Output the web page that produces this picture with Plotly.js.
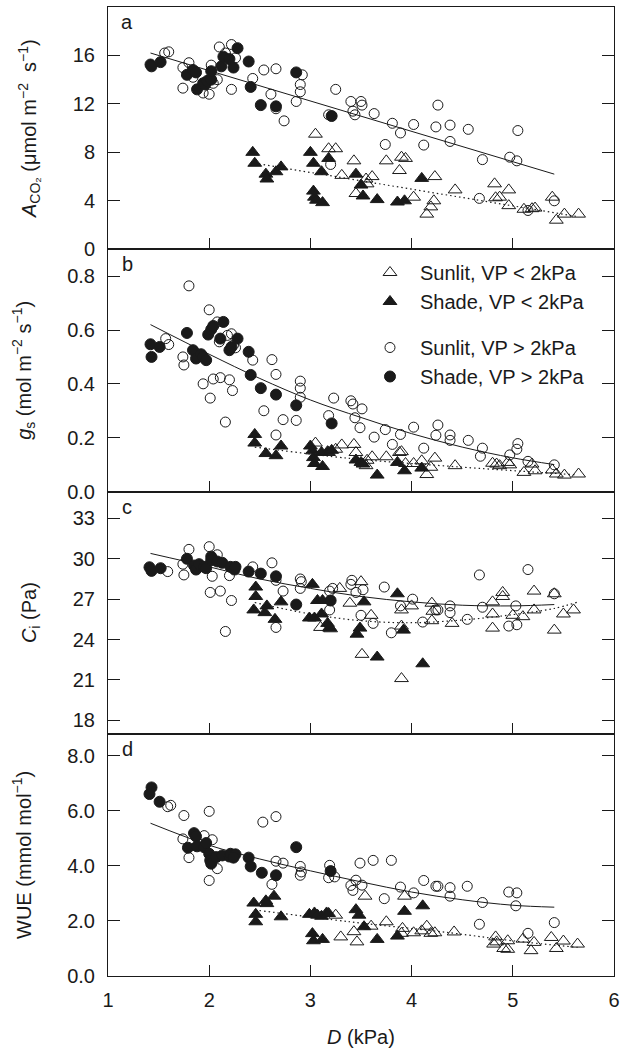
<!DOCTYPE html>
<html>
<head>
<meta charset="utf-8">
<script src="https://cdn.plot.ly/plotly-3.0.1.min.js"></script>
<style>html,body{margin:0;padding:0;background:#fff;}#chart{width:633px;height:1051px;}</style>
</head>
<body>
<div id="chart"></div>
<script>
// ---------- Panel a: A_CO2 ----------
const a_sunHi_x = [1.56,1.6,1.74,1.8,1.74,1.84,1.94,2.0,2.02,2.04,2.08,2.1,2.16,2.22,2.22,2.26,2.43,2.54,2.61,2.66,2.66,2.74,2.86,2.9,2.9,2.92,3.2,3.18,3.25,3.4,3.42,3.44,3.5,3.51,3.63,3.74,3.81,3.89,4.02,4.12,4.24,4.26,4.38,4.38,4.56,4.7,4.67,4.97,5.04,5.05,5.15,5.41];
const a_sunHi_y = [16.2,16.3,15.0,15.4,13.3,14.2,12.9,12.8,15.2,13.7,14.0,16.7,16.2,16.9,13.2,15.8,14.1,14.8,12.8,14.9,11.6,10.6,12.2,13.6,13.0,14.4,7.0,11.1,13.2,12.2,11.4,11.1,12.2,11.9,11.2,8.65,10.4,9.6,10.3,8.6,10.1,11.9,10.25,8.9,9.9,7.4,4.2,7.6,7.3,9.8,3.2,4.0];
const a_shadeHi_x = [1.42,1.43,1.52,1.78,1.84,1.87,1.88,1.94,1.96,1.98,2.02,2.02,2.12,2.14,2.2,2.24,2.28,2.39,2.41,2.51,2.66,2.86,3.21];
const a_shadeHi_y = [15.25,15.1,15.45,14.4,14.8,14.6,13.2,13.7,13.6,13.9,14.0,14.7,15.1,15.9,15.7,15.0,16.6,15.5,13.4,11.9,11.8,14.6,11.0];
const a_sunLo_x = [3.05,3.18,3.25,3.31,3.43,3.45,3.55,3.56,3.61,3.75,3.88,3.9,3.94,4.02,4.15,4.19,4.22,4.23,4.43,4.82,4.83,4.87,4.96,4.96,5.11,5.19,5.22,5.39,5.43,5.51,5.65];
const a_sunLo_y = [9.5,8.3,8.3,6.1,7.3,4.6,5.8,5.4,6.0,7.3,6.5,7.6,7.5,4.3,2.9,3.5,4.0,6.0,4.9,5.4,4.25,4.3,4.9,3.6,3.3,3.35,3.4,4.3,2.4,2.9,2.9];
const a_shadeLo_x = [2.43,2.45,2.56,2.57,2.66,2.71,3.0,3.03,3.03,3.04,3.06,3.12,3.11,3.18,3.45,3.5,3.52,3.66,3.86,3.93,4.1];
const a_shadeLo_y = [8.0,7.1,6.2,5.8,6.4,6.8,8.0,7.1,4.8,4.3,4.05,3.85,6.4,7.5,6.2,5.3,4.4,4.1,3.9,4.0,5.85];
const a_fitHi_x = [1.42,5.41];
const a_fitHi_y = [16.2,6.2];
const a_fitLo_x = [2.45,5.64];
const a_fitLo_y = [7.1,2.7];

// ---------- Panel b: g_s ----------
const b_sunHi_x = [1.8,2.0,1.57,1.6,1.74,1.75,1.94,2.01,2.04,2.11,2.16,2.2,2.23,2.08,2.1,2.18,2.22,2.24,2.26,2.43,2.54,2.62,2.66,2.66,2.73,2.86,2.9,2.9,2.9,3.18,3.23,3.4,3.42,3.44,3.51,3.49,3.63,3.74,3.81,3.89,4.02,4.12,4.24,4.26,4.38,4.38,4.56,4.68,4.7,4.97,5.04,5.05,5.15,5.41];
const b_sunHi_y = [0.764,0.675,0.568,0.546,0.50,0.47,0.40,0.347,0.418,0.423,0.258,0.415,0.375,0.63,0.556,0.58,0.586,0.544,0.534,0.488,0.30,0.49,0.435,0.21,0.267,0.264,0.41,0.384,0.35,0.282,0.347,0.337,0.325,0.274,0.307,0.237,0.202,0.23,0.175,0.212,0.239,0.161,0.209,0.247,0.21,0.19,0.19,0.131,0.161,0.136,0.157,0.178,0.112,0.099];
const b_shadeHi_x = [1.42,1.43,1.51,1.78,1.84,1.87,1.92,1.94,1.97,1.99,2.02,2.04,2.11,2.14,2.2,2.22,2.28,2.39,2.41,2.51,2.66,2.86,3.21];
const b_shadeHi_y = [0.547,0.50,0.537,0.589,0.525,0.494,0.51,0.50,0.488,0.583,0.602,0.615,0.568,0.63,0.525,0.537,0.568,0.519,0.433,0.384,0.36,0.32,0.253];
const b_sunLo_x = [3.05,3.18,3.25,3.31,3.43,3.45,3.55,3.56,3.61,3.75,3.88,3.9,3.94,4.02,4.1,4.15,4.19,4.23,4.43,4.8,4.84,4.87,4.95,4.97,5.11,5.19,5.22,5.39,5.43,5.51,5.65];
const b_sunLo_y = [0.18,0.145,0.157,0.173,0.175,0.145,0.096,0.116,0.129,0.129,0.145,0.148,0.104,0.104,0.114,0.063,0.09,0.124,0.096,0.105,0.102,0.096,0.108,0.099,0.071,0.102,0.077,0.08,0.065,0.061,0.065];
const b_shadeLo_x = [2.45,2.45,2.56,2.66,2.71,3.0,3.02,3.03,3.04,3.12,3.11,3.17,3.21,3.45,3.5,3.52,3.66,3.86,3.93,4.1];
const b_shadeLo_y = [0.212,0.18,0.141,0.133,0.169,0.169,0.151,0.126,0.104,0.093,0.145,0.148,0.153,0.117,0.108,0.102,0.061,0.108,0.077,0.087];
const b_fitHi_x = [1.42,2.0,2.5,3.0,3.5,4.0,4.5,5.0,5.41];
const b_fitHi_y = [0.62,0.51,0.42,0.34,0.275,0.215,0.165,0.125,0.10];
const b_fitLo_x = [2.45,3.39,4.44,5.63];
const b_fitLo_y = [0.165,0.123,0.092,0.062];

// ---------- Panel c: C_i ----------
const c_sunHi_x = [1.59,1.74,1.75,1.8,2.0,2.03,2.01,2.08,2.11,2.16,2.22,2.2,2.43,2.62,2.66,2.66,2.73,2.9,2.91,2.9,3.19,3.19,3.22,3.4,3.41,3.45,3.52,3.5,3.62,3.73,3.8,3.89,4.01,4.11,4.24,4.26,4.38,4.38,4.55,4.67,4.7,4.96,5.03,5.04,5.15,5.41];
const c_sunHi_y = [29.05,29.6,28.8,30.7,30.9,28.7,27.5,30.3,27.6,24.6,26.9,28.75,29.4,29.7,28.4,24.9,27.6,28.5,28.3,27.8,26.2,27.6,27.8,28.1,28.4,27.5,27.7,25.8,25.2,27.9,24.5,26.5,27.0,25.3,26.2,26.2,26.5,26.0,25.5,28.8,26.4,25.0,26.5,25.1,29.2,27.4];
const c_shadeHi_x = [1.41,1.43,1.52,1.78,1.85,1.87,1.9,1.95,1.97,2.02,2.02,2.08,2.13,2.21,2.25,2.26,2.39,2.51,2.66,2.86,3.2];
const c_shadeHi_y = [29.37,29.1,29.3,30.0,29.5,29.2,29.6,29.4,29.3,30.16,29.9,29.8,29.7,29.4,29.2,29.4,29.05,28.9,28.7,26.6,26.9];
const c_sunLo_x = [3.1,3.19,3.2,3.29,3.39,3.5,3.51,3.6,3.9,3.9,3.9,4.0,4.2,4.21,4.2,4.4,4.8,4.8,4.8,4.9,4.9,5.0,5.1,5.21,5.21,5.41,5.41,5.5,5.6];
const c_sunLo_y = [24.9,24.9,24.8,27.8,26.7,28.3,22.9,25.8,26.2,25.0,21.1,26.5,26.7,26.1,25.4,25.2,26.8,25.9,24.85,27.5,27.2,25.8,25.7,27.6,26.2,27.4,24.7,25.9,26.2];
const c_shadeLo_x = [2.46,2.46,2.44,2.57,2.55,2.65,2.71,3.02,2.99,3.04,3.07,3.12,3.11,3.17,3.19,3.46,3.49,3.53,3.86,3.92,3.66,4.11];
const c_shadeLo_y = [27.9,27.2,26.2,26.5,26.0,25.5,26.8,28.1,25.6,25.6,26.9,26.9,25.9,25.2,24.85,24.4,24.85,26.8,27.4,24.7,22.7,22.2];
const c_fitHi_x = [1.42,2.0,2.5,3.0,3.5,4.0,4.5,5.0,5.41];
const c_fitHi_y = [30.4,29.4,28.5,27.8,27.2,26.8,26.55,26.5,26.6];
const c_fitLo_x = [2.45,3.0,3.5,4.0,4.5,5.0,5.4,5.65];
const c_fitLo_y = [26.75,25.9,25.4,25.25,25.45,25.85,26.3,26.8];

// ---------- Panel d: WUE ----------
const d_sunHi_x = [1.59,1.62,1.75,2.0,1.74,1.8,2.03,2.0,2.08,1.95,2.53,2.66,2.62,2.66,2.73,2.9,2.91,2.9,3.19,3.18,3.24,3.4,3.42,3.45,3.49,3.51,3.62,3.8,3.73,3.89,4.02,4.12,4.24,4.26,4.38,4.38,4.55,4.67,4.7,4.96,5.04,5.03,5.15,5.41];
const d_sunHi_y = [6.15,6.2,5.83,5.98,4.98,4.3,4.95,3.47,3.9,5.1,5.59,5.79,3.33,4.17,4.1,3.98,3.78,3.66,4.02,3.57,3.6,3.29,3.11,3.48,4.1,3.3,4.2,4.2,2.81,3.23,3.02,3.47,3.26,3.26,3.21,2.9,3.26,1.88,2.67,3.05,3.02,2.55,1.55,1.94];
const d_shadeHi_x = [1.43,1.41,1.51,1.85,1.87,1.79,1.88,1.95,1.97,2.0,2.01,2.02,2.07,2.13,2.2,2.21,2.26,2.24,2.39,2.41,2.52,2.66,2.86,3.2];
const d_shadeHi_y = [6.85,6.61,6.33,5.19,5.07,4.66,4.71,4.68,4.83,4.44,4.2,4.08,4.32,4.38,4.34,4.44,4.42,4.3,4.3,3.98,3.75,3.66,4.68,3.81];
const d_sunLo_x = [3.25,3.3,3.43,3.46,3.54,3.6,3.75,3.93,3.91,3.9,4.02,4.1,4.15,4.19,4.23,4.42,4.83,4.84,4.81,4.91,4.95,4.95,5.1,5.21,5.18,5.38,5.43,5.5,5.64];
const d_sunLo_y = [2.21,1.42,1.61,1.24,2.9,1.81,1.97,2.9,1.73,1.55,1.57,1.64,1.81,1.55,1.57,1.6,1.42,1.24,1.16,1.0,1.28,0.97,1.34,1.22,0.92,1.4,1.0,1.27,1.16];
const d_shadeLo_x = [2.44,2.46,2.46,2.56,2.57,2.64,2.71,2.99,3.04,3.07,3.11,3.16,3.18,3.02,3.03,3.12,3.45,3.48,3.53,3.93,4.11,3.86,3.66];
const d_shadeLo_y = [2.65,2.24,1.97,2.73,2.63,2.9,2.15,2.24,2.29,2.21,2.17,2.29,2.27,1.54,1.28,1.33,2.41,2.21,1.79,2.35,2.55,1.45,1.33];
const d_fitHi_x = [1.42,2.0,2.5,3.0,3.5,4.0,4.5,5.0,5.41];
const d_fitHi_y = [5.55,4.75,4.25,3.82,3.42,3.05,2.77,2.57,2.5];
const d_fitLo_x = [2.45,3.39,4.38,5.0,5.64];
const d_fitLo_y = [2.4,1.97,1.57,1.28,1.04];

// ---------- labels / ticks ----------
const seriesNames = ['Sunlit, VP < 2kPa','Shade, VP < 2kPa','Sunlit, VP > 2kPa','Shade, VP > 2kPa'];
const panelLetters = ['a','b','c','d'];
const yTitles = ['<i>A</i><sub>CO₂</sub> (μmol m<sup>−2</sup>  s<sup>−1</sup>)',
                 '<i>g</i><sub>s</sub> (mol m<sup>−2</sup> s<sup>−1</sup>)',
                 '<i>C</i><sub>i</sub> (Pa)',
                 'WUE (mmol mol<sup>−1</sup>)'];
const xTitle = '<i>D</i> (kPa)';
const xTicks = [1,2,3,4,5,6];
const yTickVals = [[0,4,8,12,16],[0,0.2,0.4,0.6,0.8],[18,21,24,27,30,33],[0,2,4,6,8]];
const yRanges = [[0,20],[0,0.9],[17,35],[0,8.8]];
const yFormats = ['d','.1f','d','.1f'];

const panels = [
  {sunLo:[a_sunLo_x,a_sunLo_y], shadeLo:[a_shadeLo_x,a_shadeLo_y], sunHi:[a_sunHi_x,a_sunHi_y], shadeHi:[a_shadeHi_x,a_shadeHi_y], fitHi:[a_fitHi_x,a_fitHi_y], fitLo:[a_fitLo_x,a_fitLo_y]},
  {sunLo:[b_sunLo_x,b_sunLo_y], shadeLo:[b_shadeLo_x,b_shadeLo_y], sunHi:[b_sunHi_x,b_sunHi_y], shadeHi:[b_shadeHi_x,b_shadeHi_y], fitHi:[b_fitHi_x,b_fitHi_y], fitLo:[b_fitLo_x,b_fitLo_y]},
  {sunLo:[c_sunLo_x,c_sunLo_y], shadeLo:[c_shadeLo_x,c_shadeLo_y], sunHi:[c_sunHi_x,c_sunHi_y], shadeHi:[c_shadeHi_x,c_shadeHi_y], fitHi:[c_fitHi_x,c_fitHi_y], fitLo:[c_fitLo_x,c_fitLo_y]},
  {sunLo:[d_sunLo_x,d_sunLo_y], shadeLo:[d_shadeLo_x,d_shadeLo_y], sunHi:[d_sunHi_x,d_sunHi_y], shadeHi:[d_shadeHi_x,d_shadeHi_y], fitHi:[d_fitHi_x,d_fitHi_y], fitLo:[d_fitLo_x,d_fitLo_y]}
];

const FONT = 'Liberation Sans, Arial, Helvetica, sans-serif';
const INK = '#1a1a1a';
const styles = {
  sunLo:   {symbol:'triangle-up-open', size:12, legend:'legend',  name:seriesNames[0]},
  shadeLo: {symbol:'triangle-up',      size:12, legend:'legend',  name:seriesNames[1]},
  sunHi:   {symbol:'circle-open',      size:10, legend:'legend2', name:seriesNames[2]},
  shadeHi: {symbol:'circle',           size:11, legend:'legend2', name:seriesNames[3]}
};

const traces = [];
panels.forEach((p, i) => {
  const sfx = i === 0 ? '' : String(i + 1);
  const xa = 'x' + sfx, ya = 'y' + sfx;
  traces.push({x:p.fitHi[0], y:p.fitHi[1], xaxis:xa, yaxis:ya, mode:'lines', line:{color:INK, width:1, shape:'spline'}, showlegend:false, hoverinfo:'skip'});
  traces.push({x:p.fitLo[0], y:p.fitLo[1], xaxis:xa, yaxis:ya, mode:'lines', line:{color:INK, width:1.2, dash:'1.5px,3px', shape:'spline'}, showlegend:false, hoverinfo:'skip'});
  ['sunLo','shadeLo','sunHi','shadeHi'].forEach(k => {
    const s = styles[k];
    traces.push({x:p[k][0], y:p[k][1], xaxis:xa, yaxis:ya, mode:'markers', name:s.name,
      legend:s.legend, showlegend:i === 1,
      marker:{symbol:s.symbol, size:s.size, color:INK, line:{color:INK, width:1}}});
  });
});

// paper y of a pixel row
const py = px => 1 - (px - 7) / 969;
const legendCommon = {x:0.498, xanchor:'left', yanchor:'middle', bgcolor:'rgba(0,0,0,0)', itemwidth:50,
  font:{family:FONT, size:20, color:INK}, traceorder:'normal'};

const layout = {
  width:633, height:1051,
  margin:{l:108, r:19, t:7, b:75},
  paper_bgcolor:'#fff', plot_bgcolor:'#fff',
  font:{family:FONT, size:20, color:INK},
  showlegend:true,
  legend:Object.assign({}, legendCommon, {y:py(287)}),
  legend2:Object.assign({}, legendCommon, {y:py(362)}),
  annotations:[]
};

panels.forEach((p, i) => {
  const sfx = i === 0 ? '' : String(i + 1);
  const top = 1 - i * 0.25, bot = 1 - (i + 1) * 0.25;
  const xa = {
    domain:[0,1], anchor:'y' + sfx, range:[1,6], tickvals:xTicks,
    showticklabels:i === 3, ticks:'inside', ticklen:11, tickwidth:1, tickcolor:INK,
    showline:true, linecolor:INK, linewidth:1, mirror:true, showgrid:false, zeroline:false,
    tickfont:{family:FONT, size:20, color:INK}, ticklabelstandoff:6
  };
  if (i === 3) xa.title = {text:xTitle, font:{family:FONT, size:20, color:INK}, standoff:19};
  layout['xaxis' + sfx] = xa;
  layout['yaxis' + sfx] = {
    domain:[bot, top], anchor:'x' + sfx, range:yRanges[i], tickvals:yTickVals[i], tickformat:yFormats[i],
    ticks:'inside', ticklen:12, tickwidth:1, tickcolor:INK,
    showline:true, linecolor:INK, linewidth:1, mirror:'ticks', showgrid:false, zeroline:false,
    tickfont:{family:FONT, size:20, color:INK}, ticklabelstandoff:8,
    title:{text:yTitles[i], font:{family:FONT, size:20, color:INK}, standoff:30}
  };
  layout.annotations.push({text:panelLetters[i], xref:'x' + sfx + ' domain', yref:'y' + sfx + ' domain',
    x:0.038, y:1 - 15/242, xanchor:'center', yanchor:'middle', showarrow:false,
    font:{family:FONT, size:20, color:INK}});
});

Plotly.newPlot('chart', traces, layout, {staticPlot:true, displayModeBar:false});
</script>
</body>
</html>
